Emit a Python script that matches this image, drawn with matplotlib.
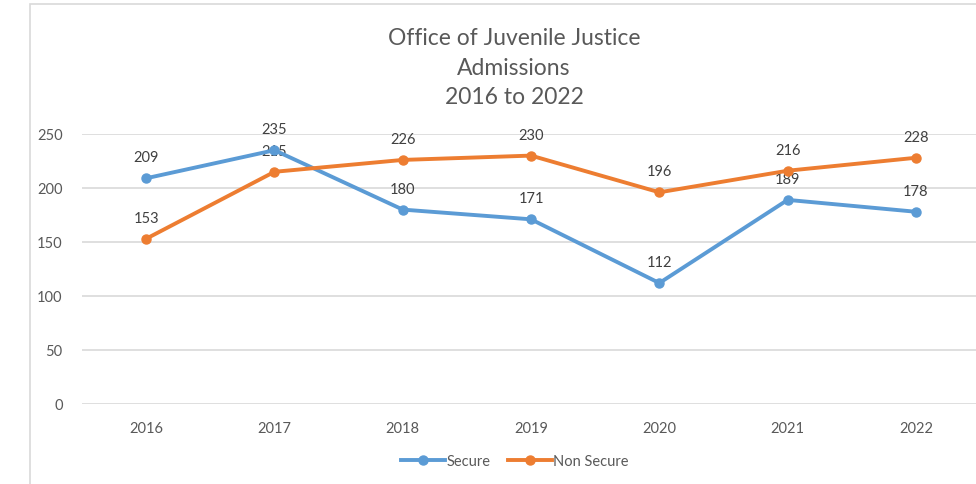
import matplotlib
matplotlib.use("Agg")
import matplotlib.pyplot as plt
from matplotlib.patches import Rectangle

# Datos
years = ["2016", "2017", "2018", "2019", "2020", "2021", "2022"]
secure = [209, 235, 180, 171, 112, 189, 178]
non_secure = [153, 215, 226, 230, 196, 216, 228]

plt.rcParams['font.family'] = ['Lato', 'DejaVu Sans']
txt = "#595959"
blue = "#5B9BD5"
orange = "#ED7D31"

W, H = 976, 485
fig = plt.figure(figsize=(W / 100, H / 100), dpi=100)

# borde del gráfico
fig.patches.append(Rectangle((30 / W, -0.1), 1.2, 1 - 5 / H + 0.1, transform=fig.transFigure,
                             fill=False, edgecolor="#D9D9D9", linewidth=1.2))

left, right = 82, 82 + 7 * 128.3
ax = fig.add_axes([left / W, 1 - 405 / H, (right - left) / W, 270 / H])
x = range(len(years))

ax.plot(x, secure, color=blue, lw=2.8, marker="o", ms=6.5, label="Secure", zorder=3)
ax.plot(x, non_secure, color=orange, lw=2.8, marker="o", ms=6.5, label="Non Secure", zorder=3)

for i, v in enumerate(secure):
    ax.annotate(str(v), (i, v), xytext=(0, 15), textcoords="offset points",
                ha="center", va="center", fontsize=10.5, color="#404040", zorder=2)
for i, v in enumerate(non_secure):
    ax.annotate(str(v), (i, v), xytext=(0, 15), textcoords="offset points",
                ha="center", va="center", fontsize=10.5, color="#404040", zorder=2)

ax.set_xlim(-0.5, 6.5)
ax.set_ylim(0, 250)
ax.set_yticks(range(0, 251, 50))
ax.set_xticks(list(x))
ax.set_xticklabels(years)
ax.grid(axis="y", color="#D9D9D9", lw=1.2)
ax.set_axisbelow(True)
for s in ax.spines.values():
    s.set_visible(False)
ax.tick_params(length=0, labelsize=10.5, colors=txt)
ax.tick_params(axis="x", pad=12)
ax.tick_params(axis="y", pad=14)

fig.text(514 / W, 1 - 68.5 / H, "Office of Juvenile Justice\nAdmissions\n2016 to 2022",
         ha="center", va="center", fontsize=16.5, color=txt, linespacing=1.5)

fig.legend(loc="center", bbox_to_anchor=(515 / W, 1 - 462 / H), ncol=2, frameon=False,
           fontsize=10.5, labelcolor=txt, handlelength=3.0, handletextpad=0.1, columnspacing=1.2)

fig.savefig("out.png", dpi=100)
